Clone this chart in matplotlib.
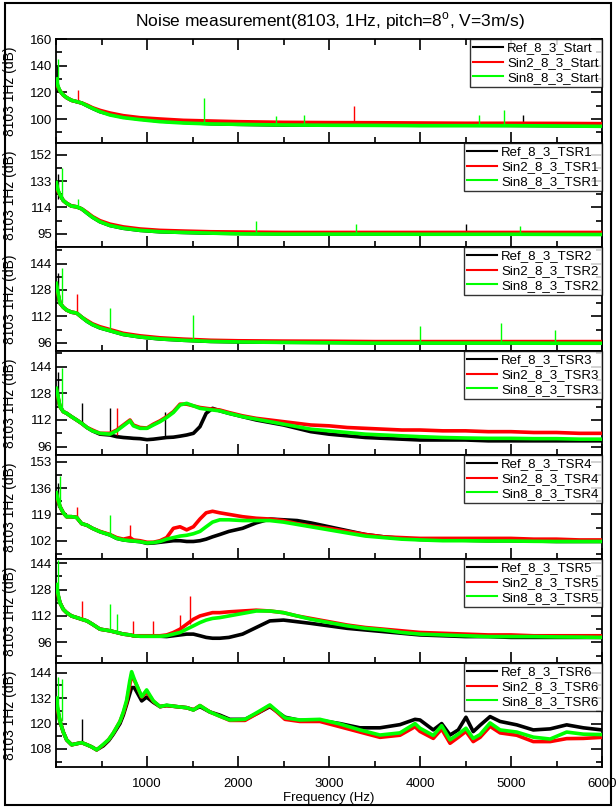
import numpy as np
import matplotlib
matplotlib.use('Agg')
import matplotlib.pyplot as plt
from matplotlib.lines import Line2D
from matplotlib.patches import Rectangle
from matplotlib.ticker import MultipleLocator, FixedLocator

plt.rcParams['font.family'] = ['Liberation Sans', 'DejaVu Sans']

# ---------------- data ----------------
panel_names = ['Start', 'TSR1', 'TSR2', 'TSR3', 'TSR4', 'TSR5', 'TSR6']
series_prefix = ['Ref_8_3_', 'Sin2_8_3_', 'Sin8_8_3_']
series_colors = ['#000000', '#ff0000', '#00ff00']

yticks_all = [
    [100, 120, 140, 160],
    [95, 114, 133, 152],
    [96, 112, 128, 144],
    [96, 112, 128, 144],
    [102, 119, 136, 153],
    [96, 112, 128, 144],
    [108, 120, 132, 144],
]
ylims_all = [(82, 160), (85.5, 160.5), (91, 154), (91, 153.4),
             (90.2, 157.3), (83.5, 146.5), (99.5, 148.6)]

freq_a = [5, 20, 44, 80, 117, 170, 227, 282, 340, 400, 483, 593, 740, 923, 1143,
          1400, 1700, 2000, 2500, 3000, 3500, 4000, 4500, 5000, 5500, 6000]

p1_ref = [128, 124, 121, 118, 116, 114, 113, 112, 110, 108, 105.5, 103.5, 101.5, 100, 98.5,
          97.5, 96.5, 96, 95.5, 95.5, 95.5, 95.3, 95.3, 95.2, 95, 95]
p1_sin2 = [128, 124, 121, 118, 116, 114, 113, 112, 110.5, 108.5, 106.5, 104.5, 102.5, 101, 100,
           99, 98.5, 98, 97.5, 97.3, 97.2, 97, 96.8, 96.8, 96.7, 96.5]
p1_sin8 = [130, 125, 121, 118, 116, 114, 113, 112, 110, 108, 105.5, 103, 101, 99.5, 98,
           97, 96.3, 96, 95.5, 95.3, 95.2, 95, 95, 95, 94.8, 94.5]

p2_ref = [130, 126, 123, 119, 117, 115, 114.5, 113, 110, 107, 103.7, 101, 99, 97.5, 96.5,
          96, 95.5, 95.3, 95, 95, 95, 95, 95, 95, 95, 95]
p2_sin2 = [130, 126, 123, 119, 117, 115, 114.5, 113, 110.5, 107.5, 104.5, 102, 100, 98.5, 97.5,
           97, 96.5, 96.3, 96, 96, 96, 96, 96, 96, 96, 96]
p2_sin8 = [132, 127, 123, 119, 117, 115, 114.5, 113, 110, 107, 103.7, 101, 99, 97.5, 96.5,
           96, 95.5, 95, 94.8, 94.8, 94.8, 94.7, 94.7, 94.7, 94.6, 94.5]

p3_ref = [130, 126, 120, 117.5, 115.8, 114.5, 114, 111.5, 109, 107, 105, 103.3, 101, 99.5, 98.3,
          97.5, 96.8, 96.5, 96.3, 96.2, 96, 96, 96, 96, 96, 96]
p3_sin2 = [130, 126, 120, 117.5, 115.8, 114.5, 114, 111.5, 109.5, 107.5, 105.7, 104, 101.7, 100.2, 99,
           98.2, 97.5, 97.2, 97, 96.9, 96.7, 96.7, 96.7, 96.7, 96.7, 96.7]
p3_sin8 = [132, 127, 120, 117.5, 115.8, 114.5, 114, 111.5, 109, 107, 105, 103.3, 101, 99.5, 98.3,
           97.5, 96.8, 96.5, 96.2, 96, 95.8, 95.8, 95.8, 95.8, 95.7, 95.7]

freq_b = [5, 20, 44, 80, 117, 170, 227, 282, 340, 400,
          483, 593, 667, 740, 813, 850, 923, 1000, 1070, 1143,
          1216, 1290, 1363, 1436, 1510, 1582, 1650, 1720, 1800, 1900,
          2050, 2200, 2350, 2500, 2650, 2800, 3000, 3200, 3400, 3600,
          3800, 4000, 4250, 4500, 4750, 5000, 5250, 5500, 5750, 6000]

p4_ref = [130, 126, 120, 117, 116, 114, 112, 110, 107.5, 105.5,
          103.5, 103, 102, 101.5, 101.2, 101, 100.8, 100.2, 100.5, 101,
          101.5, 101.7, 102.3, 103, 104, 108, 116, 119, 117.5, 116,
          114, 112, 110.5, 109, 107, 105, 103.5, 102.5, 101.5, 101,
          100.5, 100, 100, 100, 99.5, 99.5, 99.5, 99.5, 99.5, 99.5]
p4_sin2 = [130, 126, 120, 117, 116, 114, 112, 110, 107.5, 106,
           104, 104, 106, 109, 112, 109, 107.5, 107.2, 109.5, 111.5,
           114, 117, 121.5, 121.5, 120.5, 119.5, 119, 118.5, 118, 116.5,
           114.5, 113, 112, 111, 110, 109, 108.5, 107.5, 107, 106.5,
           106, 106, 105.5, 105.5, 105, 105, 104.5, 104.5, 104, 104]
p4_sin8 = [131, 127, 120, 117, 116, 114, 112, 110, 107.5, 105.5,
           104, 103.5, 105.5, 108.5, 111.5, 108.5, 107, 107, 109, 111,
           113.5, 116.5, 121, 122, 120.5, 119, 118.5, 118, 117.5, 116,
           114, 112.5, 111, 109.5, 108, 106.5, 105.5, 104.5, 103.5, 103,
           102.5, 102, 101.5, 101.2, 101, 101, 100.8, 100.8, 100.5, 100.5]

p5_ref = [132, 128, 124, 120, 117.5, 117.5, 117, 113, 112, 110,
          107.8, 105.7, 103.5, 102.5, 102, 101.8, 101.4, 100.3, 100.5, 101,
          101.5, 102, 102, 101.5, 101.5, 102, 103, 104.5, 106, 108,
          110, 113.5, 116, 115.5, 115, 113.5, 111, 108.5, 106, 104.5,
          103.5, 102.8, 102.5, 102.3, 102, 102, 101.8, 101.5, 101.5, 101.5]
p5_sin2 = [132, 128, 124, 120, 117.5, 117.5, 117, 113, 112, 110,
           108, 106, 104, 103, 104, 102.5, 102, 101, 101, 102,
           104, 110, 111, 109, 111, 116, 120, 121, 120, 119,
           117.5, 116.5, 116, 115, 113, 111.5, 110, 108, 106, 104.5,
           104, 103.5, 103.5, 103.5, 103.5, 103.5, 103, 103, 102.5, 102.5]
p5_sin8 = [133, 129, 124, 120, 117.5, 117.5, 117, 113, 112, 110,
           107.8, 105.7, 103.5, 102.5, 102, 101.8, 101.4, 100.5, 100.8, 101.5,
           103, 104, 105, 105.5, 106.5, 108, 111, 114, 115.5, 115.5,
           115, 115, 115, 114, 112.5, 111, 109, 107, 105, 104,
           103, 102.5, 102, 102, 101.8, 101.8, 101.6, 101.5, 101.5, 101.5]

p6_ref = [130, 125, 120, 116, 114, 112, 111, 110, 109, 107,
          104, 103, 102, 101, 100.5, 100, 99.7, 99.7, 99.7, 99.7,
          99.5, 100, 100.5, 101, 101, 100, 99, 98.5, 98.5, 99,
          101, 105, 109, 109.5, 108.5, 107.5, 106, 104.5, 103.5, 102.5,
          101.5, 100.5, 100, 99.5, 99.5, 99, 99, 99, 99, 99]
p6_sin2 = [130, 125, 120, 116, 114, 112, 111, 110, 109, 107,
           104, 103, 102, 101, 100.5, 100, 100, 100, 100, 100,
           100.5, 102, 104, 107, 110, 112, 113, 114, 114, 114.5,
           115, 115.5, 115, 114, 112, 110.5, 108.5, 106.5, 105, 104,
           103, 102, 101.5, 101, 100.5, 100.5, 100, 100, 100, 100]
p6_sin8 = [131, 126, 120, 116, 114, 112, 111, 110, 109, 107,
           104, 103, 102, 101, 100.5, 100, 99.7, 99.7, 99.7, 99.7,
           100, 101, 102, 104, 106, 108, 109.5, 110.5, 111, 112,
           113.5, 115, 115, 114, 112, 110, 108, 106, 104.5, 103.5,
           102, 101, 100.5, 100, 99.5, 99.5, 99.5, 99.3, 99.2, 99]

freq_c = [5, 20, 44, 80, 117, 172, 227, 282, 340, 392,
          447, 520, 580, 630, 703, 740, 776, 810, 831, 860,
          887, 942, 996, 1070, 1143, 1216, 1326, 1436, 1510, 1582,
          1690, 1800, 1910, 2077, 2220, 2350, 2516, 2680, 2900, 3120,
          3340, 3560, 3780, 3945, 4000, 4146, 4238, 4330, 4420, 4505,
          4585, 4660, 4770, 4880, 5063, 5245, 5430, 5612, 5795, 6000]

p7_ref = [130, 126, 121, 116, 112.3, 110, 110.5, 111, 110, 109,
          107.6, 109.5, 112, 115, 120, 124, 129, 134, 137, 137,
          135, 130.7, 132.5, 130, 128, 128.5, 128, 127.5, 126.5, 128,
          125.5, 124, 122, 122, 125, 128, 123, 121.5, 121.5, 120,
          118, 118, 119.5, 122, 121.7, 117, 120, 114.6, 117, 123,
          116.2, 119.2, 123.3, 121, 119.4, 117, 117.5, 119.4, 118, 117]
p7_sin2 = [130, 126, 121, 116, 112.3, 110, 110.5, 111, 110, 109,
           107.6, 110, 112.5, 115.5, 121, 125, 130, 138, 143, 140.5,
           138, 132.5, 135, 130.5, 128, 128.5, 128, 127.5, 126.5, 128.5,
           125.5, 123.5, 121.5, 121.5, 125, 128.5, 122, 121, 121, 118.5,
           116, 113.5, 114.5, 118.5, 116.3, 113, 117.4, 110.7, 113.5, 116.3,
           111.5, 113.5, 118.7, 115.6, 114.5, 111.5, 111.5, 112.9, 113, 113.5]
p7_sin8 = [132, 127, 121, 116, 112.3, 110, 110.5, 111, 110, 109,
           107.6, 110.2, 112.5, 115.6, 121, 125.5, 131, 140, 144.5, 141,
           138.2, 132.7, 135.9, 130.7, 128, 128.7, 128, 127.5, 126.4, 128.5,
           125.5, 123.5, 121.7, 122, 125.5, 128.8, 122.7, 121.7, 122, 119.8,
           117, 114.6, 115.6, 120, 117.8, 114.4, 119, 112.3, 115, 117.8,
           113, 114.8, 120.3, 117, 116, 113.6, 112.7, 116, 115, 114.8]

# narrow spectral spikes: frequency, base level, peak level, series index
p1_spk_f = [10, 22, 240, 1630, 2420, 2730, 3280, 4645, 4920, 5130]
p1_spk_lo = [120, 122, 112, 97, 96, 96, 98, 96, 96, 96]
p1_spk_hi = [140, 145, 122, 115.5, 102, 103, 110, 103, 107, 103]
p1_spk_s = [0, 2, 1, 2, 2, 2, 1, 2, 2, 0]

p2_spk_f = [22, 62, 245, 2200, 3300, 4500, 5100]
p2_spk_lo = [120, 120, 113, 95, 95, 95, 95]
p2_spk_hi = [138, 142.5, 120, 104, 102, 102, 101]
p2_spk_s = [0, 2, 2, 2, 2, 0, 2]

p3_spk_f = [22, 62, 235, 593, 1510, 4000, 4890, 5480]
p3_spk_lo = [120, 120, 114, 103, 97, 96, 96, 96]
p3_spk_hi = [138, 141, 125.5, 117, 112.8, 106, 108, 104]
p3_spk_s = [0, 2, 1, 2, 2, 2, 2, 2]

p4_spk_f = [22, 62, 282, 593, 667, 1200]
p4_spk_lo = [120, 118, 110, 103, 103, 101]
p4_spk_hi = [141, 143, 122, 119, 119.5, 117]
p4_spk_s = [0, 2, 0, 0, 1, 0]

p5_spk_f = [22, 40, 232, 593, 813]
p5_spk_lo = [124, 124, 117, 105.7, 102]
p5_spk_hi = [139, 144, 124, 118.6, 112]
p5_spk_s = [0, 2, 1, 2, 1]

p6_spk_f = [20, 282, 593, 667, 850, 1070, 1363, 1470]
p6_spk_lo = [120, 110, 103, 102, 100, 100, 104, 107]
p6_spk_hi = [146, 121, 119.4, 113, 109, 109, 112.5, 124]
p6_spk_s = [2, 1, 2, 2, 1, 1, 1, 1]

p7_spk_f = [20, 62, 282]
p7_spk_lo = [121, 121, 111]
p7_spk_hi = [142, 141, 122]
p7_spk_s = [2, 2, 0]

panels = [
    (freq_a, [p1_ref, p1_sin2, p1_sin8], (p1_spk_f, p1_spk_lo, p1_spk_hi, p1_spk_s)),
    (freq_a, [p2_ref, p2_sin2, p2_sin8], (p2_spk_f, p2_spk_lo, p2_spk_hi, p2_spk_s)),
    (freq_a, [p3_ref, p3_sin2, p3_sin8], (p3_spk_f, p3_spk_lo, p3_spk_hi, p3_spk_s)),
    (freq_b, [p4_ref, p4_sin2, p4_sin8], (p4_spk_f, p4_spk_lo, p4_spk_hi, p4_spk_s)),
    (freq_b, [p5_ref, p5_sin2, p5_sin8], (p5_spk_f, p5_spk_lo, p5_spk_hi, p5_spk_s)),
    (freq_b, [p6_ref, p6_sin2, p6_sin8], (p6_spk_f, p6_spk_lo, p6_spk_hi, p6_spk_s)),
    (freq_c, [p7_ref, p7_sin2, p7_sin8], (p7_spk_f, p7_spk_lo, p7_spk_hi, p7_spk_s)),
]

# ---------------- figure ----------------
W, H = 616, 808
fig = plt.figure(figsize=(W / 100, H / 100), dpi=100)
left, right = 56 / W, 602 / W
top, bottom = 1 - 39 / H, 1 - 767 / H
gs = fig.add_gridspec(7, 1, left=left, right=right, top=top, bottom=bottom, hspace=0)

fs = 9.5
for i, (freq, vals, spk) in enumerate(panels):
    ax = fig.add_subplot(gs[i, 0])
    for k in range(3):
        ax.plot(freq, vals[k], color=series_colors[k], lw=2.6, zorder=2 + k,
                solid_joinstyle='round')
    sf, slo, shi, ss = spk
    for f, lo, hi, s in zip(sf, slo, shi, ss):
        ax.vlines(f, lo, hi, color=series_colors[s], lw=1.0, zorder=2 + s)
    ax.set_xlim(0, 6000)
    ax.set_ylim(*ylims_all[i])
    ax.yaxis.set_major_locator(FixedLocator(yticks_all[i]))
    step = yticks_all[i][1] - yticks_all[i][0]
    ax.yaxis.set_minor_locator(MultipleLocator(step / 2))
    ax.xaxis.set_major_locator(FixedLocator([1000, 2000, 3000, 4000, 5000, 6000]))
    ax.xaxis.set_minor_locator(MultipleLocator(500))
    ax.tick_params(axis='y', which='both', direction='in', left=True, right=True,
                   labelsize=fs, pad=3)
    ax.tick_params(axis='x', which='both', direction='in', bottom=True, top=(i == 0),
                   labelsize=fs, pad=8)
    ax.tick_params(which='major', length=8, width=1.2)
    ax.tick_params(which='minor', length=4, width=1.2)
    for sp in ax.spines.values():
        sp.set_linewidth(1.3)
    if i < 6:
        ax.tick_params(axis='x', labelbottom=False)
    else:
        ax.set_xlabel('Frequency (Hz)', fontsize=fs, labelpad=1)
    ax.set_ylabel('8103 1Hz (dB)', fontsize=10)
    ax.yaxis.set_label_coords(-0.072, 0.5)
    handles = [Line2D([], [], color=series_colors[k], lw=1.5) for k in range(3)]
    labels = [p + panel_names[i] for p in series_prefix]
    leg = ax.legend(handles, labels, loc='upper right', fontsize=fs, frameon=True,
                    fancybox=False, borderaxespad=0, handlelength=2.3,
                    handletextpad=0.3, labelspacing=0.18, borderpad=0.25)
    leg.get_frame().set_edgecolor('black')
    leg.get_frame().set_linewidth(1.0)
    leg.set_zorder(10)

fig.text(0.536, 1 - 21 / H, 'Noise measurement(8103, 1Hz, pitch=8$^\\mathregular{o}$, V=3m/s)',
         ha='center', va='center', fontsize=12.5)

fig.patches.append(Rectangle((5 / W, 3 / H), (611 - 5) / W, (805 - 3) / H,
                             transform=fig.transFigure, fill=False,
                             edgecolor='black', linewidth=1.5))

fig.savefig('out.png', dpi=100)
